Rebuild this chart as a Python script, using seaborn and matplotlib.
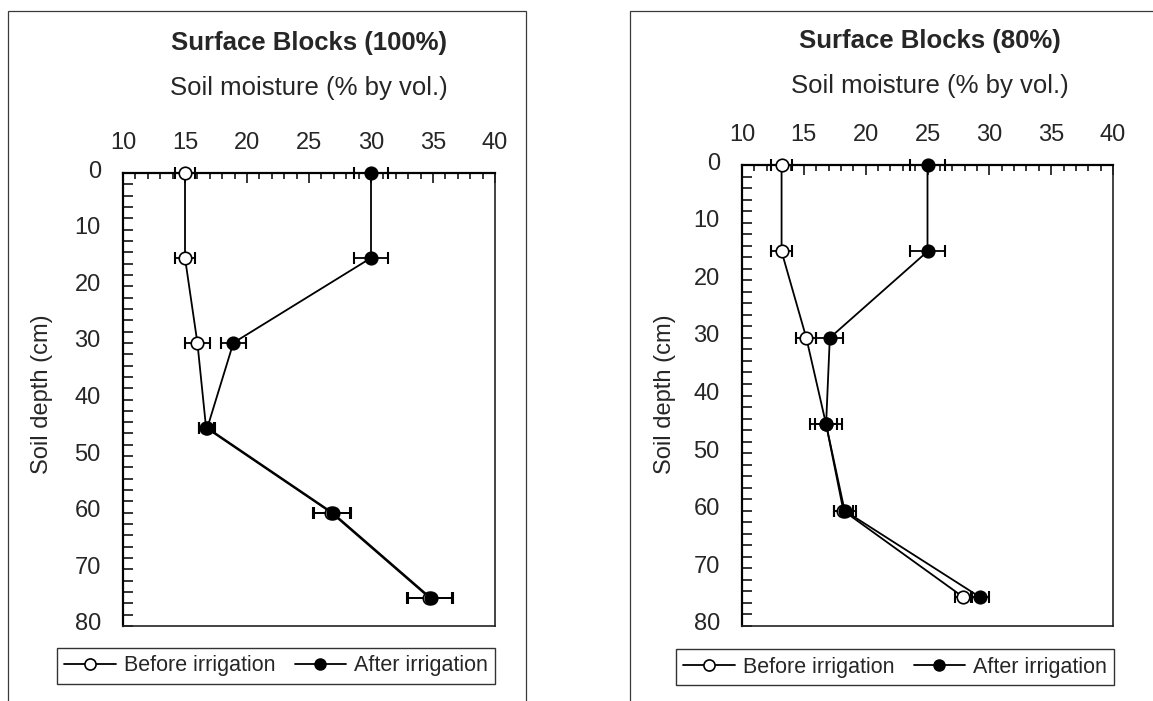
import matplotlib
matplotlib.use('Agg')
import matplotlib.pyplot as plt
import matplotlib.transforms as mtransforms
from matplotlib.lines import Line2D
from matplotlib.patches import Rectangle
from matplotlib.ticker import MultipleLocator
import pandas as pd
import seaborn as sns

# soil depth (cm) of each reading
depth = [0, 15, 30, 45, 60, 75]

# Surface Blocks (100%)
before_100 = [15.0, 15.0, 16.0, 16.7, 26.8, 34.7]
after_100 = [30.0, 30.0, 18.9, 16.8, 26.9, 34.8]
before_100_err = [0.8, 0.8, 1.0, 0.6, 1.5, 1.8]
after_100_err = [1.4, 1.4, 1.0, 0.65, 1.5, 1.8]

# Surface Blocks (80%)
before_80 = [13.2, 13.2, 15.2, 16.8, 18.2, 27.9]
after_80 = [25.0, 25.0, 17.1, 16.8, 18.3, 29.25]
before_80_err = [0.85, 0.85, 0.8, 0.9, 0.8, 0.7]
after_80_err = [1.4, 1.4, 1.1, 1.3, 0.9, 0.7]

titles = ['Surface Blocks (100%)', 'Surface Blocks (80%)']
series_labels = ['Before irrigation', 'After irrigation']

sns.set_theme(style='white')
plt.rcParams['font.family'] = ['Liberation Sans', 'DejaVu Sans']

W, H = 1153, 701
fig = plt.figure(figsize=(W / 100, H / 100), dpi=100)


def px_box(x0, y0, x1, y1):
    # pixel box (top-left origin) -> figure fraction rect
    return [x0 / W, 1 - y1 / H, (x1 - x0) / W, (y1 - y0) / H]


panels = [
    dict(ax_box=(123, 173, 495, 626), frame=(7.5, 10.5, 526, 720),
         cx=309, title_y=43, sub_y=88, ylab_x=42, leg=(276, 666),
         data=(before_100, after_100, before_100_err, after_100_err)),
    dict(ax_box=(742, 165, 1113, 626), frame=(630, 10.5, 1170, 720),
         cx=930, title_y=41, sub_y=86, ylab_x=665, leg=(895, 667),
         data=(before_80, after_80, before_80_err, after_80_err)),
]

for i, p in enumerate(panels):
    before, after, before_err, after_err = p['data']
    df = pd.DataFrame({
        'depth': depth * 2,
        'moisture': before + after,
        'err': before_err + after_err,
        'state': [series_labels[0]] * len(depth) + [series_labels[1]] * len(depth),
    })

    # outer chart border
    fx0, fy0, fx1, fy1 = p['frame']
    fig.add_artist(Rectangle((fx0 / W, 1 - fy1 / H), (fx1 - fx0) / W, (fy1 - fy0) / H,
                             transform=fig.transFigure, fill=False,
                             edgecolor='#3a3a3a', linewidth=0.9))

    ax = fig.add_axes(px_box(*p['ax_box']))

    for state, face in zip(series_labels, ['white', 'black']):
        sub = df[df['state'] == state]
        eb = ax.errorbar(sub['moisture'], sub['depth'], xerr=sub['err'], fmt='none',
                         ecolor='black', elinewidth=1.3, capsize=4.5, capthick=1.5, zorder=4)
        for art in eb.lines[1] + eb.lines[2]:
            art.set_clip_on(False)
        sns.lineplot(data=sub, x='moisture', y='depth', sort=False, estimator=None,
                     color='black', linewidth=1.3, marker='o', markersize=9,
                     markerfacecolor=face, markeredgecolor='black',
                     markeredgewidth=1.2, ax=ax, zorder=5, clip_on=False)

    ax.set_xlim(10, 40)
    ax.set_ylim(80, 0)
    ax.xaxis.set_major_locator(MultipleLocator(5))
    ax.xaxis.set_minor_locator(MultipleLocator(1))
    ax.yaxis.set_major_locator(MultipleLocator(10))
    ax.yaxis.set_minor_locator(MultipleLocator(2))
    ax.xaxis.tick_top()
    ax.tick_params(axis='x', which='both', direction='in', top=True, bottom=False,
                   labeltop=True, labelbottom=False, color='black', width=1.1)
    ax.tick_params(axis='y', which='both', direction='in', left=True, color='black', width=1.1)
    ax.tick_params(axis='x', which='major', length=7, pad=14, labelsize=17)
    ax.tick_params(axis='x', which='minor', length=4)
    ax.tick_params(axis='y', which='major', length=7, pad=16, labelsize=17)
    ax.tick_params(axis='y', which='minor', length=7)
    ax.set_xlabel('')
    ax.set_ylabel('')
    for side in ['top', 'left']:
        ax.spines[side].set_color('black')
        ax.spines[side].set_linewidth(1.6)
    for side in ['bottom', 'right']:
        ax.spines[side].set_color('#222222')
        ax.spines[side].set_linewidth(1.2)

    # Excel-style y labels sit a little above their ticks
    shift = mtransforms.ScaledTranslation(0, 4 / 100, fig.dpi_scale_trans)
    for lab in ax.get_yticklabels():
        lab.set_transform(lab.get_transform() + shift)

    fig.text(p['cx'] / W, 1 - p['title_y'] / H, titles[i], ha='center', va='center',
             fontsize=18.5, fontweight='bold')
    fig.text(p['cx'] / W, 1 - p['sub_y'] / H, 'Soil moisture (% by vol.)',
             ha='center', va='center', fontsize=18.5)
    fig.text(p['ylab_x'] / W, 1 - 394 / H, 'Soil depth (cm)', ha='center', va='center',
             rotation=90, fontsize=17)

    handles = [
        Line2D([], [], color='black', linewidth=1.3, marker='o', markersize=8,
               markerfacecolor='white', markeredgecolor='black', markeredgewidth=1.2),
        Line2D([], [], color='black', linewidth=1.3, marker='o', markersize=8,
               markerfacecolor='black', markeredgecolor='black'),
    ]
    lx, ly = p['leg']
    leg = fig.legend(handles, series_labels, loc='center', bbox_to_anchor=(lx / W, 1 - ly / H),
                     ncol=2, fontsize=15.5, frameon=True, fancybox=False, shadow=False,
                     handlelength=2.4, handletextpad=0.35, columnspacing=0.9,
                     borderpad=0.35, borderaxespad=0)
    leg.get_frame().set_edgecolor('black')
    leg.get_frame().set_linewidth(1.0)

fig.savefig('out.png', dpi=100, facecolor='white')
